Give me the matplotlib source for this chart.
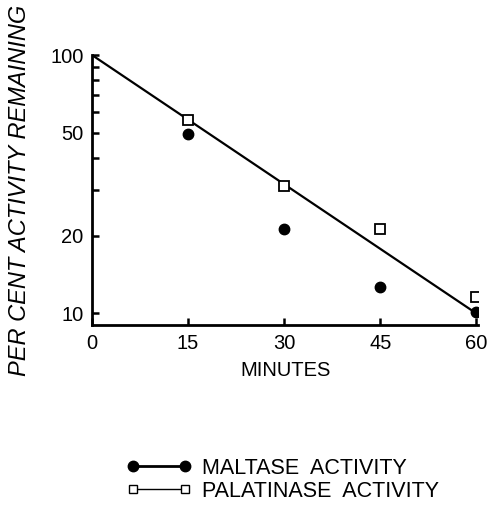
import numpy as np
import matplotlib
matplotlib.use('Agg')
import matplotlib.pyplot as plt
from matplotlib.ticker import FixedLocator, NullFormatter

plt.rcParams['font.family'] = ['Liberation Sans', 'DejaVu Sans']

# data
minutes = [15, 30, 45, 60]
maltase = [49.6, 21.2, 12.6, 10.1]
palatinase = [55.9, 31.0, 21.3, 11.6]
fit_x = [0, 60]
fit_y = [100, 10]

y_major = [10, 20, 50, 100]
y_minor = [30, 40, 60, 70, 80, 90]
x_ticks = [0, 15, 30, 45, 60]

fig = plt.figure(figsize=(4.92, 5.05), dpi=100)
ax = fig.add_axes([0.187, 0.356, 0.785, 0.535])

ax.plot(fit_x, fit_y, color='black', lw=1.6, zorder=2)
ax.plot(minutes, maltase, 'o', color='black', ms=7.5, zorder=3, label='MALTASE  ACTIVITY')
ax.plot(minutes, palatinase, 's', mfc='white', mec='black', mew=1.3, ms=7.5, zorder=3,
        label='PALATINASE  ACTIVITY')

ax.set_yscale('log')
ax.set_ylim(9.0, 100)
ax.set_xlim(0, 60.3)
ax.yaxis.set_major_locator(FixedLocator(y_major))
ax.yaxis.set_minor_locator(FixedLocator(y_minor))
ax.yaxis.set_minor_formatter(NullFormatter())
ax.set_yticklabels([str(v) for v in y_major])
ax.set_xticks(x_ticks)
ax.set_xticklabels([str(v) for v in x_ticks])

ax.spines['top'].set_visible(False)
ax.spines['right'].set_visible(False)
for s in ['left', 'bottom']:
    ax.spines[s].set_linewidth(2.0)
ax.tick_params(which='both', direction='in', width=1.8, labelsize=14.5, pad=6)
ax.tick_params(which='major', length=5)
ax.tick_params(which='minor', length=5)

ax.set_xlabel('MINUTES', fontsize=14.5, labelpad=6)
ax.set_ylabel('PER CENT ACTIVITY REMAINING', fontsize=17, style='italic', labelpad=14)

h, l = ax.get_legend_handles_labels()
h1 = plt.Line2D([], [], color='black', lw=2.0, marker='o', ms=7.5)
h2 = plt.Line2D([], [], color='black', lw=1.0, marker='s', mfc='white', mec='black', ms=6)
fig.legend([h1, h2], l, loc='center', bbox_to_anchor=(0.575, 0.05), frameon=False,
           numpoints=2, fontsize=15.5, handlelength=3.0, labelspacing=0.1,
           handletextpad=0.5, borderpad=0.2)

fig.savefig('out.png', dpi=100)
